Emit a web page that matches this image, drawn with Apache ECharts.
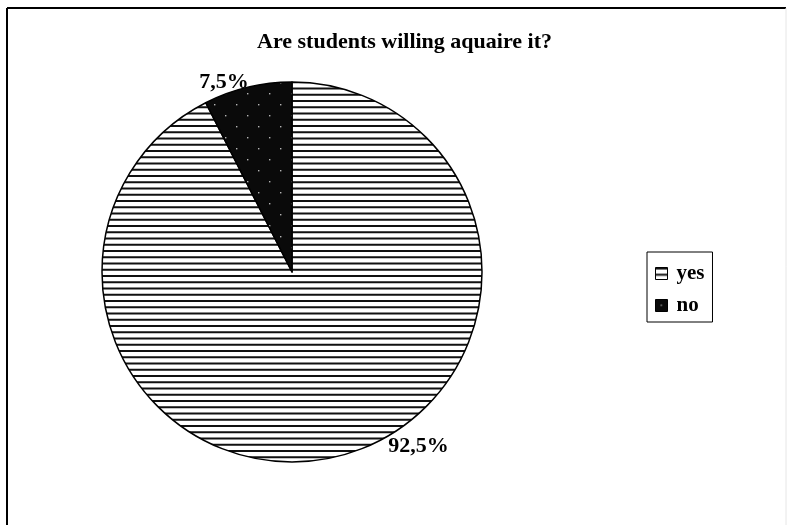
<!DOCTYPE html>
<html>
<head>
<meta charset="utf-8">
<script src="https://cdn.jsdelivr.net/npm/echarts@6/dist/echarts.min.js"></script>
<style>
  html, body { margin: 0; padding: 0; background: #fff; }
  #chart { width: 788px; height: 525px; }
</style>
</head>
<body>
<div id="chart"></div>
<script>
// Survey answers
const categories = ['yes', 'no'];
const shares = [92.5, 7.5];
const chartTitle = 'Are students willing aquaire it?';

const SERIF = '"Liberation Serif", "Times New Roman", serif';

// Horizontal hatching for "yes"
function stripePattern() {
  const c = document.createElement('canvas');
  c.width = 8; c.height = 25;
  const g = c.getContext('2d');
  g.fillStyle = '#fff';
  g.fillRect(0, 0, c.width, c.height);
  g.fillStyle = '#111';
  for (let i = 0; i < 4; i++) g.fillRect(0, i * 6.25, c.width, 2);
  return c;
}

// Black fill with a sparse grid of light dots for "no"
function dotPattern() {
  const c = document.createElement('canvas');
  c.width = 22; c.height = 22;
  const g = c.getContext('2d');
  g.fillStyle = '#0a0a0a';
  g.fillRect(0, 0, c.width, c.height);
  g.fillStyle = '#b5b5b5';
  g.fillRect(5, 5, 1.4, 1.4);
  g.fillRect(16, 16, 1.4, 1.4);
  return c;
}

const fills = [
  { image: stripePattern(), repeat: 'repeat' },
  { image: dotPattern(), repeat: 'repeat' }
];
const labelOffsets = [[47, -10], [6, -5]];

const chart = echarts.init(document.getElementById('chart'), null, { renderer: 'canvas' });

chart.setOption({
  animation: false,
  backgroundColor: '#fff',
  title: {
    text: chartTitle,
    left: 252,
    top: 26,
    textStyle: { fontFamily: SERIF, fontWeight: 'bold', fontSize: 22, color: '#000' }
  },
  legend: {
    orient: 'vertical',
    left: 647,
    top: 252,
    padding: [11, 8, 6, 8],
    itemGap: 11,
    itemWidth: 12,
    itemHeight: 12,
    borderColor: '#000',
    borderWidth: 1,
    icon: 'rect',
    data: categories,
    itemStyle: { borderColor: '#000', borderWidth: 1 },
    textStyle: { fontFamily: SERIF, fontWeight: 'bold', fontSize: 21, color: '#000', padding: [0, 0, 0, 4] }
  },
  graphic: [
    { type: 'line', shape: { x1: 7, y1: 8, x2: 786, y2: 8 }, style: { stroke: '#000', lineWidth: 2 } },
    { type: 'line', shape: { x1: 7, y1: 8, x2: 7, y2: 525 }, style: { stroke: '#000', lineWidth: 2 } },
    { type: 'line', shape: { x1: 786, y1: 8, x2: 786, y2: 525 }, style: { stroke: '#e6e6e6', lineWidth: 1 } }
  ],
  series: [{
    type: 'pie',
    center: [292, 272],
    radius: 190,
    startAngle: 90,
    clockwise: true,
    avoidLabelOverlap: false,
    itemStyle: { borderColor: '#000', borderWidth: 1.5 },
    emphasis: { disabled: true },
    labelLine: { show: false, length: 0, length2: 0 },
    label: {
      show: true,
      position: 'outside',
      fontFamily: SERIF,
      fontWeight: 'bold',
      fontSize: 22,
      color: '#000',
      formatter: p => p.value.toFixed(1).replace('.', ',') + '%'
    },
    data: categories.map((name, i) => ({
      name,
      value: shares[i],
      itemStyle: { color: fills[i] },
      label: { offset: labelOffsets[i] }
    }))
  }]
});
</script>
</body>
</html>
